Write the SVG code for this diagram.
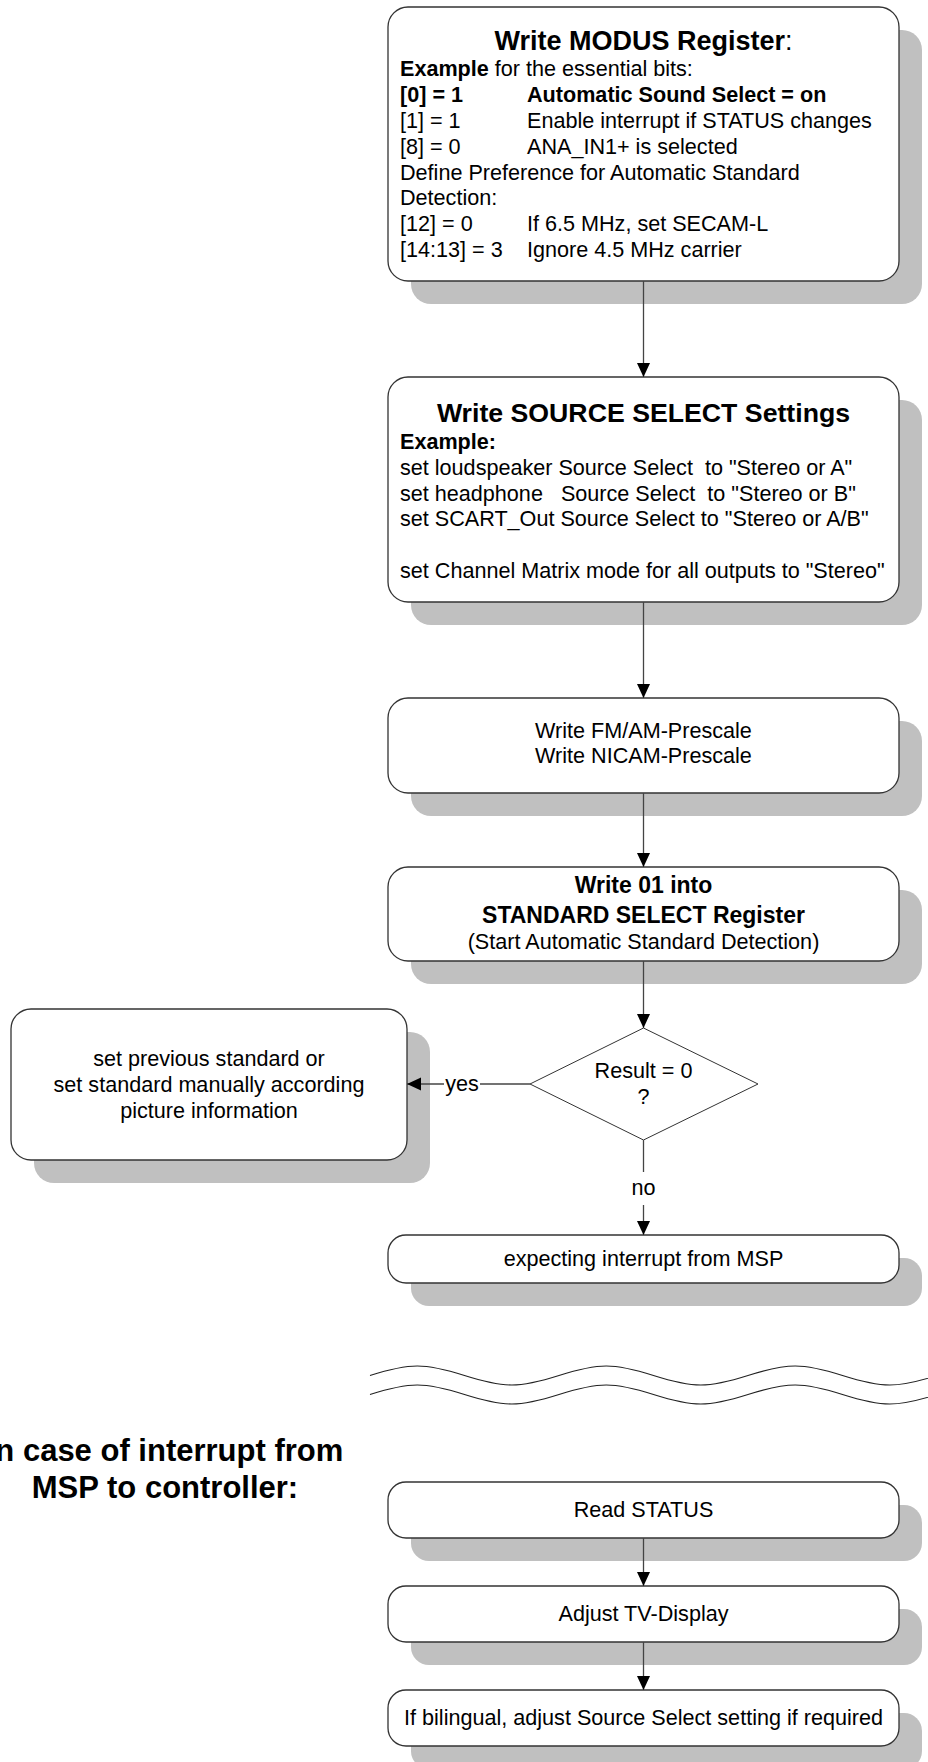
<svg xmlns="http://www.w3.org/2000/svg" width="928" height="1762" viewBox="0 0 928 1762">
<defs>
<style>
.sh{fill:#c0c0c0}
.bx{fill:#fff;stroke:#333;stroke-width:1.3}
.dm{fill:#fff;stroke:#333;stroke-width:1}
.t{font-family:"Liberation Sans",Arial,sans-serif;font-size:21.6px;fill:#000;white-space:pre}
.b{font-weight:bold}
.c{text-anchor:middle}
.ln{stroke:#444;stroke-width:1.3;fill:none}
.wv{stroke:#222;stroke-width:1.1;fill:none}
</style>
<marker id="ah" markerUnits="userSpaceOnUse" markerWidth="14" markerHeight="14" refX="14" refY="6.5" orient="auto">
<path d="M0,0 L14,6.5 L0,13 z" fill="#000"/>
</marker>
</defs>
<rect width="928" height="1762" fill="#fff"/>

<g id="modus">
<rect class="sh" x="411" y="30" width="511" height="274" rx="20"/>
<rect class="bx" x="388" y="7" width="511" height="274" rx="20"/>
<text class="t c" x="643.5" y="50" style="font-size:27px"><tspan class="b">Write MODUS Register</tspan>:</text>
<text class="t" x="400" y="76"><tspan class="b">Example</tspan> for the essential bits:</text>
<text class="t b" x="400" y="102">[0] = 1</text><text class="t b" x="527" y="102">Automatic Sound Select = on</text>
<text class="t" x="400" y="128">[1] = 1</text><text class="t" x="527" y="128">Enable interrupt if STATUS changes</text>
<text class="t" x="400" y="154">[8] = 0</text><text class="t" x="527" y="154">ANA_IN1+ is selected</text>
<text class="t" x="400" y="180">Define Preference for Automatic Standard</text>
<text class="t" x="400" y="205">Detection:</text>
<text class="t" x="400" y="231">[12] = 0</text><text class="t" x="527" y="231">If 6.5 MHz, set SECAM-L</text>
<text class="t" x="400" y="257">[14:13] = 3</text><text class="t" x="527" y="257">Ignore 4.5 MHz carrier</text>
</g>

<g id="source">
<rect class="sh" x="411" y="400" width="511" height="225" rx="20"/>
<rect class="bx" x="388" y="377" width="511" height="225" rx="20"/>
<text class="t c b" x="643.5" y="422" style="font-size:26.7px">Write SOURCE SELECT Settings</text>
<text class="t b" x="400" y="449">Example:</text>
<text class="t" x="400" y="475">set loudspeaker Source Select  to "Stereo or A"</text>
<text class="t" x="400" y="500.5">set headphone   Source Select  to "Stereo or B"</text>
<text class="t" x="400" y="526">set SCART_Out Source Select to "Stereo or A/B"</text>
<text class="t" x="400" y="577.5">set Channel Matrix mode for all outputs to "Stereo"</text>
</g>

<g id="prescale">
<rect class="sh" x="411" y="721" width="511" height="95" rx="20"/>
<rect class="bx" x="388" y="698" width="511" height="95" rx="20"/>
<text class="t c" x="643.5" y="738">Write FM/AM-Prescale</text>
<text class="t c" x="643.5" y="763">Write NICAM-Prescale</text>
</g>

<g id="stdselect">
<rect class="sh" x="411" y="890" width="511" height="94" rx="20"/>
<rect class="bx" x="388" y="867" width="511" height="94" rx="20"/>
<text class="t c b" x="643.5" y="893" style="font-size:23px">Write 01 into</text>
<text class="t c b" x="643.5" y="923" style="font-size:23px">STANDARD SELECT Register</text>
<text class="t c" x="643.5" y="949">(Start Automatic Standard Detection)</text>
</g>

<g id="decision">
<polygon class="dm" points="643.5,1028 758,1084 643.5,1140 530,1084"/>
<text class="t c" x="643.5" y="1078">Result = 0</text>
<text class="t c" x="643.5" y="1104">?</text>
</g>

<g id="manual">
<rect class="sh" x="34" y="1032" width="396" height="151" rx="20"/>
<rect class="bx" x="11" y="1009" width="396" height="151" rx="20"/>
<text class="t c" x="209" y="1066">set previous standard or</text>
<text class="t c" x="209" y="1092">set standard manually according</text>
<text class="t c" x="209" y="1118">picture information</text>
</g>

<g id="expecting">
<rect class="sh" x="411" y="1258" width="511" height="48" rx="18"/>
<rect class="bx" x="388" y="1235" width="511" height="48" rx="18"/>
<text class="t c" x="643.5" y="1266">expecting interrupt from MSP</text>
</g>

<g id="break">
<path class="wv" d="M370,1375.5 c40.1,-12.67 54.4,-12.67 94.5,0 s54.4,12.67 94.5,0 s54.4,-12.67 94.5,0 s54.4,12.67 94.5,0 s54.4,-12.67 94.5,0 s54.4,12.67 94.5,0"/>
<path class="wv" d="M370,1394.5 c40.1,-12.67 54.4,-12.67 94.5,0 s54.4,12.67 94.5,0 s54.4,-12.67 94.5,0 s54.4,12.67 94.5,0 s54.4,-12.67 94.5,0 s54.4,12.67 94.5,0"/>
</g>

<g id="interrupt-label">
<text class="t c b" x="165" y="1461" style="font-size:31px">In case of interrupt from</text>
<text class="t c b" x="165" y="1498" style="font-size:31px">MSP to controller:</text>
</g>

<g id="readstatus">
<rect class="sh" x="411" y="1505" width="511" height="56" rx="18"/>
<rect class="bx" x="388" y="1482" width="511" height="56" rx="18"/>
<text class="t c" x="643.5" y="1517">Read STATUS</text>
</g>

<g id="adjust">
<rect class="sh" x="411" y="1609" width="511" height="56" rx="18"/>
<rect class="bx" x="388" y="1586" width="511" height="56" rx="18"/>
<text class="t c" x="643.5" y="1621">Adjust TV-Display</text>
</g>

<g id="bilingual">
<rect class="sh" x="411" y="1713" width="511" height="56" rx="18"/>
<rect class="bx" x="388" y="1690" width="511" height="56" rx="18"/>
<text class="t c" x="643.5" y="1725">If bilingual, adjust Source Select setting if required</text>
</g>

<g id="connectors">
<line class="ln" x1="643.5" y1="281" x2="643.5" y2="377" marker-end="url(#ah)"/>
<line class="ln" x1="643.5" y1="602" x2="643.5" y2="698" marker-end="url(#ah)"/>
<line class="ln" x1="643.5" y1="793" x2="643.5" y2="867" marker-end="url(#ah)"/>
<line class="ln" x1="643.5" y1="961" x2="643.5" y2="1028" marker-end="url(#ah)"/>
<line class="ln" x1="530" y1="1084" x2="480" y2="1084"/>
<line class="ln" x1="444" y1="1084" x2="407" y2="1084" marker-end="url(#ah)"/>
<text class="t c" x="462" y="1091">yes</text>
<line class="ln" x1="643.5" y1="1140" x2="643.5" y2="1172"/>
<line class="ln" x1="643.5" y1="1205" x2="643.5" y2="1235" marker-end="url(#ah)"/>
<text class="t c" x="643.5" y="1195">no</text>
<line class="ln" x1="643.5" y1="1538" x2="643.5" y2="1586" marker-end="url(#ah)"/>
<line class="ln" x1="643.5" y1="1642" x2="643.5" y2="1690" marker-end="url(#ah)"/>
</g>
</svg>
